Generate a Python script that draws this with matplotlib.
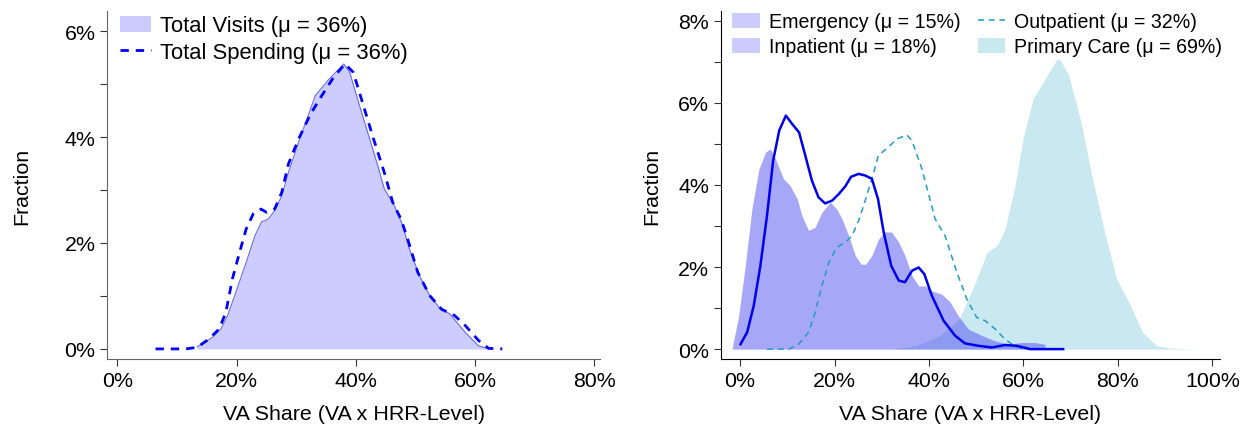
import matplotlib
matplotlib.use("Agg")
import matplotlib.pyplot as plt
from matplotlib.patches import Patch
from matplotlib.lines import Line2D
from matplotlib.ticker import FuncFormatter, MultipleLocator

plt.rcParams['font.family'] = ['Liberation Sans', 'DejaVu Sans']
plt.rcParams['font.size'] = 15.4

# --- left panel: totals (VA share in %, fraction in %) ---
visits_x = [13.4, 16.0, 17.4, 18.5, 19.7, 21.6, 23.1, 24.2, 25.3, 26.4, 27.6, 28.7,
            30.4, 32.1, 33.2, 35.5, 36.9, 38.0, 39.0, 40.3, 42.0, 43.7, 44.8, 46.5,
            47.9, 49.0, 50.7, 52.4, 54.1, 55.8, 58.4, 60.6, 62.3]
visits_y = [0.04, 0.22, 0.38, 0.63, 1.01, 1.63, 2.14, 2.40, 2.45, 2.61, 2.89, 3.33,
            3.90, 4.43, 4.78, 5.09, 5.25, 5.38, 5.22, 4.72, 4.09, 3.46, 3.02, 2.70,
            2.33, 1.89, 1.38, 1.01, 0.77, 0.66, 0.31, 0.06, 0.0]

spending_x = [6.4, 11.5, 13.4, 15.4, 17.1, 18.2, 19.3, 20.5, 21.6, 22.8, 24.1, 25.0,
              26.4, 27.6, 28.7, 30.4, 32.4, 34.3, 36.3, 38.2, 39.6, 41.3, 43.0, 44.8,
              46.2, 47.6, 48.7, 50.4, 52.4, 54.4, 56.6, 58.4, 60.6, 62.3, 64.6]
spending_y = [0.0, 0.0, 0.03, 0.19, 0.38, 0.69, 1.32, 1.82, 2.26, 2.55, 2.64, 2.58,
              2.64, 2.96, 3.49, 3.96, 4.43, 4.78, 5.13, 5.38, 5.22, 4.59, 3.96, 3.33,
              2.77, 2.45, 2.08, 1.45, 1.01, 0.75, 0.63, 0.44, 0.16, 0.01, 0.0]

# --- right panel: by service type ---
inpatient_x = [-1.7, -0.3, 1.1, 2.5, 4.0, 5.4, 6.4, 7.5, 9.2, 10.6, 12.1, 13.1, 14.5,
               15.9, 17.3, 19.1, 20.5, 21.6, 23.0, 24.4, 25.6, 26.6, 27.9, 29.3, 30.7,
               32.1, 33.6, 34.9, 36.4, 37.8, 39.2, 40.6, 42.7, 44.5, 46.2, 48.3, 51.2,
               54.0, 56.8, 59.6, 62.4, 64.5, 64.7]
inpatient_y = [0.0, 0.81, 2.03, 3.41, 4.39, 4.80, 4.88, 4.63, 4.15, 3.98, 3.66, 3.25,
               2.89, 2.97, 3.33, 3.58, 3.41, 3.17, 2.76, 2.28, 2.07, 2.07, 2.28, 2.68,
               2.86, 2.85, 2.60, 2.28, 1.79, 1.54, 1.54, 1.42, 1.34, 1.14, 0.81, 0.49,
               0.33, 0.20, 0.12, 0.16, 0.16, 0.12, 0.0]

emergency_x = [0.1, 1.5, 2.9, 4.3, 5.7, 7.0, 8.3, 9.7, 11.0, 12.5, 13.8, 15.2, 16.6,
               18.0, 19.5, 20.9, 22.3, 23.5, 25.1, 26.5, 27.9, 29.2, 30.4, 32.0, 33.6,
               34.9, 36.4, 37.8, 39.0, 40.6, 43.1, 45.5, 47.6, 50.5, 53.3, 56.1, 58.6,
               61.4, 68.4]
emergency_y = [0.12, 0.41, 1.06, 2.03, 3.25, 4.59, 5.33, 5.69, 5.49, 5.28, 4.72, 4.11,
               3.70, 3.55, 3.62, 3.78, 3.97, 4.20, 4.27, 4.23, 4.15, 3.66, 2.85, 2.03,
               1.67, 1.63, 1.91, 1.99, 1.83, 1.30, 0.69, 0.33, 0.14, 0.08, 0.04, 0.10,
               0.08, 0.0, 0.0]

outpatient_x = [5.7, 10.3, 12.4, 14.5, 15.9, 17.3, 18.8, 20.5, 22.3, 23.7, 25.1, 26.5,
                27.9, 29.3, 31.4, 33.2, 35.3, 36.4, 38.5, 41.3, 43.4, 45.9, 48.0, 50.1,
                51.9, 54.0, 56.1, 58.2, 60.0]
outpatient_y = [0.0, 0.0, 0.12, 0.41, 0.89, 1.54, 2.11, 2.48, 2.60, 2.76, 3.13, 3.62,
                4.15, 4.72, 4.92, 5.12, 5.22, 5.08, 4.39, 3.17, 2.76, 1.87, 1.22, 0.77,
                0.69, 0.49, 0.24, 0.07, 0.0]

primary_x = [32.1, 37.1, 42.2, 46.4, 49.8, 52.3, 54.4, 56.1, 58.2, 59.9, 62.0, 63.7,
             65.8, 67.1, 67.9, 69.6, 72.2, 74.3, 77.2, 79.7, 82.3, 85.2, 88.2, 91.1, 97.0]
primary_y = [0.0, 0.08, 0.32, 0.73, 1.62, 2.36, 2.52, 2.92, 3.98, 5.12, 6.09, 6.42,
             6.82, 7.07, 7.03, 6.66, 5.52, 4.31, 2.84, 1.71, 1.14, 0.41, 0.08, 0.02, 0.0]

LAV = '#ccccff'
LBLUE = '#c9e8f0'
TEAL = '#1f9ccc'

pct = FuncFormatter(lambda v, p: f"{v:.0f}%")

fig = plt.figure(figsize=(12.43, 4.27), dpi=100)
ax1 = fig.add_axes([0.0863, 0.157, 0.3964, 0.815])
ax2 = fig.add_axes([0.5798, 0.157, 0.4017, 0.815])

# left panel
ax1.fill_between(visits_x, visits_y, color=LAV, lw=0)
ax1.plot(visits_x, visits_y, color='#6a6af2', lw=0.8)
ax1.plot(spending_x, spending_y, color='#0000ff', lw=2, dashes=(3, 2.5))
ax1.set_xlim(-1.7, 81)
ax1.set_ylim(-0.19, 6.38)
ax1.set_xticks([0, 20, 40, 60, 80])
ax1.set_yticks([0, 2, 4, 6])
ax1.yaxis.set_minor_locator(MultipleLocator(1))

h1 = [Patch(facecolor=LAV, edgecolor='none'),
      Line2D([0], [0], color='#0000ff', lw=2, dashes=(3, 2.5))]
ax1.legend(h1, ["Total Visits (\u03bc = 36%)", "Total Spending (\u03bc = 36%)"],
           loc='upper left', bbox_to_anchor=(0.0, 1.025), frameon=False,
           handlelength=1.4, handleheight=0.75, handletextpad=0.4,
           labelspacing=0.25, borderaxespad=0.2, fontsize=15.8)

# right panel
ax2.fill_between(primary_x, primary_y, color=LBLUE, lw=0)
ax2.fill_between(inpatient_x, inpatient_y, color='#5050f0', alpha=0.5, lw=0)
ax2.plot(outpatient_x, outpatient_y, color=TEAL, lw=1.1, dashes=(4, 3))
ax2.plot(emergency_x, emergency_y, color='#0000ee', lw=1.8)
ax2.set_xlim(-4.1, 101.6)
ax2.set_ylim(-0.24, 8.24)
ax2.set_xticks([0, 20, 40, 60, 80, 100])
ax2.set_yticks([0, 2, 4, 6, 8])
ax2.yaxis.set_minor_locator(MultipleLocator(1))

h2 = [Patch(facecolor=LAV, edgecolor='none'),
      Patch(facecolor=LAV, edgecolor='none'),
      Line2D([0], [0], color=TEAL, lw=1.1, dashes=(4, 3)),
      Patch(facecolor=LBLUE, edgecolor='none')]
ax2.legend(h2, ["Emergency (\u03bc = 15%)", "Inpatient (\u03bc = 18%)",
                "Outpatient (\u03bc = 32%)", "Primary Care (\u03bc = 69%)"],
           ncol=2, loc='upper left', bbox_to_anchor=(0.0, 1.03), frameon=False,
           handlelength=1.4, handleheight=0.8, handletextpad=0.45,
           labelspacing=0.3, columnspacing=0.9, borderaxespad=0.2, fontsize=14.1)

for ax, sc, pad in ((ax1, '#666666', 24), (ax2, '#000000', 12)):
    ax.spines['top'].set_visible(False)
    ax.spines['right'].set_visible(False)
    ax.spines['left'].set_color(sc)
    ax.spines['bottom'].set_color(sc)
    ax.xaxis.set_major_formatter(pct)
    ax.yaxis.set_major_formatter(pct)
    ax.tick_params(which='both', direction='out', length=5, width=0.8,
                   colors='#333333', labelcolor='black', labelsize=15.4)
    ax.set_ylabel("Fraction", fontsize=15.4, labelpad=pad)
    ax.set_xlabel("VA Share (VA x HRR-Level)", fontsize=15.4, labelpad=10)

fig.savefig("out.png", dpi=100)
